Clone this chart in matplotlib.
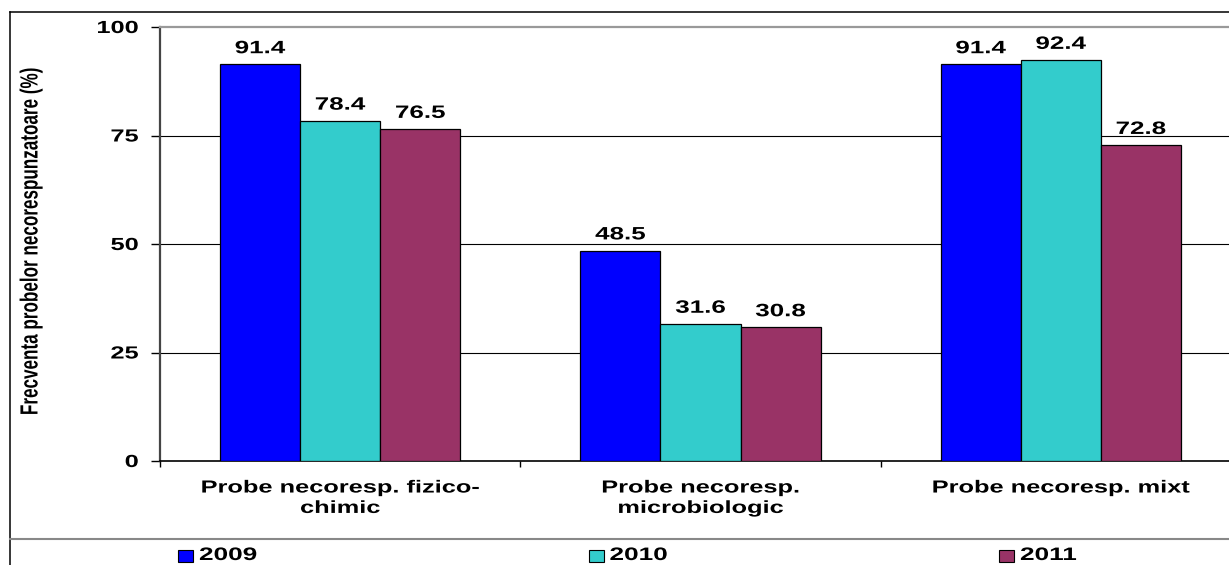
import numpy as np
import matplotlib.pyplot as plt
from matplotlib import patheffects
from matplotlib.transforms import Affine2D
from matplotlib.patches import Rectangle
from matplotlib.lines import Line2D

categories = ['Probe necoresp. fizico-\nchimic', 'Probe necoresp.\nmicrobiologic', 'Probe necoresp. mixt']
years = ['2009', '2010', '2011']
v2009 = [91.4, 48.5, 91.4]
v2010 = [78.4, 31.6, 92.4]
v2011 = [76.5, 30.8, 72.8]
yticks = [0, 25, 50, 75, 100]
colors = ['#0000FF', '#33CCCC', '#993366']
ylabel = 'Frecventa probelor necorespunzatoare (%)'

plt.rcParams['font.family'] = ['Liberation Sans', 'DejaVu Sans']

SX = 1.45  # text in this chart is drawn wide


class Wide(patheffects.AbstractPathEffect):
    # stretch glyphs sideways (axis 0 = along the text, 1 = across it)
    def __init__(self, sx=SX, axis=0, about='center'):
        super().__init__()
        self.sx, self.axis, self.about = sx, axis, about

    def draw_path(self, renderer, gc, tpath, affine, rgbFace=None):
        e = tpath.get_extents()
        if self.axis == 0:
            c = {'center': (e.x0 + e.x1) / 2, 'left': 0, 'right': e.x1}[self.about]
            pre = Affine2D().translate(-c, 0).scale(self.sx, 1).translate(c, 0)
        else:
            c = (e.y0 + e.y1) / 2
            pre = Affine2D().translate(0, -c).scale(1, self.sx).translate(0, c)
        renderer.draw_path(gc, tpath, pre + affine, rgbFace)


W, H = 1229, 565
fig = plt.figure(figsize=(W / 100, H / 100), dpi=100)
ax = fig.add_axes([160 / W, 104 / H, 1081 / W, 434 / H])

fs = 12.6
n = len(categories)
w = 2 / 9
x = np.arange(n) + 0.5
for j, (vals, c) in enumerate(zip([v2009, v2010, v2011], colors)):
    xs = x + (j - 1) * w
    ax.bar(xs, vals, width=w, color=c, edgecolor='black', linewidth=0.9, zorder=3)
    for xi, v in zip(xs, vals):
        ax.annotate(f'{v:.1f}', (xi, v), xytext=(0, 8), textcoords='offset points',
                    ha='center', va='baseline', fontsize=fs + 0.3, fontweight='bold',
                    path_effects=[Wide()], zorder=4)

ax.set_xlim(0, n)
ax.set_ylim(0, 100)
ax.set_xticks(np.arange(n + 1))
ax.set_xticklabels([])
ax.tick_params(axis='x', direction='out', length=4.5, width=1, color='black')
ax.set_yticks(yticks)
ax.set_yticklabels([str(t) for t in yticks], fontsize=fs, fontweight='bold',
                   path_effects=[Wide(about='right')])
ax.tick_params(axis='y', direction='out', length=6.5, width=1, color='black', pad=9)
ax.yaxis.get_major_ticks()[-1].tick1line.set_color('#999999')

for t in yticks[1:-1]:
    ax.axhline(t, color='black', lw=0.8, zorder=1)

ax.spines['top'].set_color('#999999')
ax.spines['top'].set_linewidth(1.6)
ax.spines['left'].set_color('#444444')
ax.spines['left'].set_linewidth(1.6)
ax.spines['bottom'].set_color('black')
ax.spines['bottom'].set_linewidth(1.2)
ax.spines['right'].set_visible(False)

for xi, lab in zip(x, categories):
    ax.text(xi, -0.045, lab, transform=ax.get_xaxis_transform(), ha='center', va='top',
            fontsize=fs, fontweight='bold', linespacing=1.45, path_effects=[Wide()])

fig.text(31 / W, 1 - 241 / H, ylabel, rotation=90, ha='center', va='center',
         fontsize=12.3, fontweight='bold', path_effects=[Wide(axis=1)])

# chart frame and legend strip
fig.add_artist(Line2D([10 / W, 10 / W], [0, 1 - 12 / H], color='black', lw=1.1))
fig.add_artist(Line2D([10 / W, 1], [1 - 12 / H, 1 - 12 / H], color='black', lw=1.1))
fig.add_artist(Line2D([10 / W, 1], [1 - 539 / H, 1 - 539 / H], color='#888888', lw=1.5))

for i, (yr, c) in enumerate(zip(years, colors)):
    x0 = 178 + i * 410.5
    fig.add_artist(Rectangle((x0 / W, 1 - 562 / H), 15 / W, 12 / H, transform=fig.transFigure,
                             facecolor=c, edgecolor='black', lw=0.8))
    fig.text((x0 + 21) / W, 1 - 555.5 / H, yr, ha='left', va='center', fontsize=13,
             fontweight='bold', path_effects=[Wide(about='left')])

fig.savefig('out.png', dpi=100)
